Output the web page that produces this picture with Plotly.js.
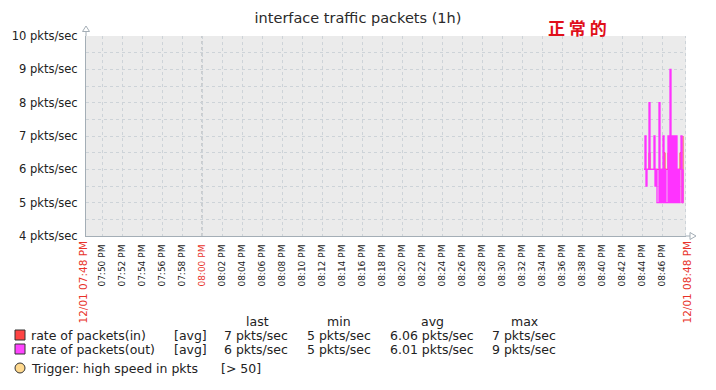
<!DOCTYPE html>
<html><head><meta charset="utf-8">
<script src="https://cdn.plot.ly/plotly-3.0.1.min.js"></script>
<style>body{margin:0;padding:0;background:#fff}</style>
</head><body><div id="chart" style="width:716px;height:390px"></div>
<script>
// ---- data ----
const titleText = "interface traffic packets (1h)";
const startTime = "19:48:24";
const endTime = "20:48:24";
const tickTimes = ["19:50","19:52","19:54","19:56","19:58","20:00","20:02","20:04","20:06","20:08","20:10","20:12","20:14","20:16","20:18","20:20","20:22","20:24","20:26","20:28","20:30","20:32","20:34","20:36","20:38","20:40","20:42","20:44","20:46"];
const tickLabels = ["07:50 PM","07:52 PM","07:54 PM","07:56 PM","07:58 PM","08:00 PM","08:02 PM","08:04 PM","08:06 PM","08:08 PM","08:10 PM","08:12 PM","08:14 PM","08:16 PM","08:18 PM","08:20 PM","08:22 PM","08:24 PM","08:26 PM","08:28 PM","08:30 PM","08:32 PM","08:34 PM","08:36 PM","08:38 PM","08:40 PM","08:42 PM","08:44 PM","08:46 PM"];
const startLabel = "12/01 07:48 PM";
const endLabel = "12/01 08:48 PM";
const yTicks = [4,5,6,7,8,9,10];
const yLabels = ["4 pkts/sec","5 pkts/sec","6 pkts/sec","7 pkts/sec","8 pkts/sec","9 pkts/sec","10 pkts/sec"];
const sampleTimes = ["20:44:12","20:44:18","20:44:24","20:44:30","20:44:36","20:44:42","20:44:48","20:44:54","20:45:00","20:45:06",
  "20:45:12","20:45:18","20:45:24","20:45:30","20:45:36","20:45:42","20:45:48","20:45:54","20:46:00","20:46:06",
  "20:46:12","20:46:18","20:46:24","20:46:30","20:46:36","20:46:42","20:46:48","20:46:54","20:47:00","20:47:06",
  "20:47:12","20:47:18","20:47:24","20:47:30","20:47:36","20:47:42","20:47:48","20:47:54","20:48:00","20:48:06"];
const packetsIn = [6,6,6,6,6,6.5,6,6,6,6, 6,6,6,6,6,6,6,6,6,6, 6.5,6,6,6,6.5,6,6,6,6,6, 6,6,6,6,6,6,6.5,6,5,7];
const packetsOut = [6,7,5.5,6,6,8,6,6,6,6, 7,5.5,6,5,5,8,5,6,5,7, 5,6,5,5,7,5,9,5,7,5, 7,5,7,5,6,5,6,7,5,6];
const legendNames = ["rate of packets(in)","rate of packets(out)"];
const legendFunc = ["[avg]","[avg]"];
const legendLast = ["7 pkts/sec","6 pkts/sec"];
const legendMin = ["5 pkts/sec","5 pkts/sec"];
const legendAvg = ["6.06 pkts/sec","6.01 pkts/sec"];
const legendMax = ["7 pkts/sec","9 pkts/sec"];
const triggerText = "Trigger: high speed in pkts";
const triggerCond = "[> 50]";
const stamp = "正 常 的";

// ---- helpers ----
const ORIGIN = 19*60 + 48; // 07:48 PM
function toMin(s){ const p = s.split(":").map(Number); return p[0]*60 + p[1] + (p[2]||0)/60 - ORIGIN; }
const L = 86, T = 36, W = 600, H = 200;
function px(x){ return (x - L)/W; }
function py(y){ return (T + H - y)/H; }

const RED = "#ff3c3c", MAG = "#ff33ff", AX = "#a4aeb6", GRID = "#cdd3d8";
const DASH = "3px,3px";
const FONT = "DejaVu Sans";
const xs = sampleTimes.map(toMin);

const traces = [
  {x: xs, y: packetsIn, type: "scatter", mode: "lines", line: {color: RED, width: 1, shape: "hv"}, hoverinfo: "skip"},
  {x: xs, y: packetsOut, type: "scatter", mode: "lines", line: {color: MAG, width: 1.3, shape: "hv"}, hoverinfo: "skip"}
];

const ticktext = tickLabels.map(t => t === "08:00 PM" ? '<span style="color:#e8322a">' + t + '</span>' : t);

const ann = [];
function txt(t, x, y, anchor, size, color, extra){
  ann.push(Object.assign({text: t, xref: "paper", yref: "paper", x: px(x), y: py(y), xanchor: anchor, yanchor: "middle",
    showarrow: false, font: {family: FONT, size: size, color: color || "#222"}}, extra || {}));
}
// edge time labels
ann.push({text: startLabel, xref: "x", yref: "paper", x: toMin(startTime), y: py(239), xshift: -4, xanchor: "center", yanchor: "top",
  textangle: -90, showarrow: false, font: {family: FONT, size: 10.5, color: "#e8322a"}});
ann.push({text: endLabel, xref: "x", yref: "paper", x: toMin(endTime), y: py(239), xshift: 0, xanchor: "center", yanchor: "top",
  textangle: -90, showarrow: false, font: {family: FONT, size: 10.5, color: "#e8322a"}});
// legend headers
txt("last", 257, 321, "center", 12.5);
txt("min", 339, 321, "center", 12.5);
txt("avg", 432, 321, "center", 12.5);
txt("max", 524, 321, "center", 12.5);
const rowY = [335, 349];
for (let i = 0; i < 2; i++){
  txt(legendNames[i], 29, rowY[i], "left", 12.5);
  txt(legendFunc[i], 209, rowY[i], "right", 12.5);
  txt(legendLast[i], 290, rowY[i], "right", 12.5);
  txt(legendMin[i], 373, rowY[i], "right", 12.5);
  txt(legendAvg[i], 476, rowY[i], "right", 12.5);
  txt(legendMax[i], 558, rowY[i], "right", 12.5);
}
txt(triggerText, 29, 368, "left", 12.5);
txt(triggerCond, 219, 368, "left", 12.5);
// stamp
ann.push({text: "<b>" + stamp + "</b>", xref: "paper", yref: "paper", x: px(577), y: py(28), xanchor: "center", yanchor: "middle",
  showarrow: false, font: {family: "Noto Sans CJK SC", size: 17, color: "#e0101a"}});

const shapes = [
  // 08:00 darker line
  {type: "line", xref: "x", yref: "paper", x0: toMin("20:00"), x1: toMin("20:00"), y0: 0, y1: 1, line: {color: "#a9aeb3", width: 1, dash: DASH}, layer: "below"},
  // right edge grid
  {type: "line", xref: "paper", yref: "paper", x0: px(685.5), x1: px(685.5), y0: 0, y1: 1, line: {color: GRID, width: 1, dash: DASH}, layer: "below"},
  // axis extensions
  {type: "line", xref: "paper", yref: "paper", x0: 0, x1: 0, y0: 1, y1: py(31.5), line: {color: AX, width: 1}},
  {type: "line", xref: "paper", yref: "paper", x0: 1, x1: px(690), y0: 0, y1: 0, line: {color: AX, width: 1}},
  // arrows
  {type: "path", xref: "paper", yref: "paper", path: `M ${px(82.5)} ${py(31.5)} L ${px(89.5)} ${py(31.5)} L ${px(86)} ${py(26)} Z`, fillcolor: "#fff", line: {color: AX, width: 1}},
  {type: "path", xref: "paper", yref: "paper", path: `M ${px(690)} ${py(232.5)} L ${px(690)} ${py(239.5)} L ${px(696)} ${py(236)} Z`, fillcolor: "#fff", line: {color: AX, width: 1}},
  // legend squares
  {type: "rect", xref: "paper", yref: "paper", x0: px(15), x1: px(25), y0: py(340), y1: py(330), fillcolor: "#ff4444", line: {color: "#333", width: 1}},
  {type: "rect", xref: "paper", yref: "paper", x0: px(15), x1: px(25), y0: py(354), y1: py(344), fillcolor: "#ff44ff", line: {color: "#333", width: 1}},
  // trigger circle
  {type: "circle", xref: "paper", yref: "paper", x0: px(15), x1: px(25), y0: py(373), y1: py(363), fillcolor: "#ffd98e", line: {color: "#333", width: 1}}
];

const layout = {
  width: 716, height: 390,
  margin: {l: L, r: 716 - L - W, t: T, b: 390 - T - H, pad: 0},
  paper_bgcolor: "#fff", plot_bgcolor: "#ebebeb",
  showlegend: false,
  title: {text: titleText, x: 0.5, xref: "container", xanchor: "center", y: 1 - 18/390, yref: "container", yanchor: "middle",
    font: {family: FONT, size: 14.5, color: "#2a2a2a"}},
  xaxis: {range: [toMin(startTime), toMin(endTime)], tickmode: "array", tickvals: tickTimes.map(toMin), ticktext: ticktext,
    tickangle: -90, tickfont: {family: FONT, size: 9, color: "#222"}, ticks: "", ticklabelstandoff: 4,
    showgrid: true, gridcolor: GRID, griddash: DASH, gridwidth: 1, zeroline: false,
    showline: true, linecolor: AX, linewidth: 1, fixedrange: true},
  yaxis: {range: [4, 10], tickmode: "array", tickvals: yTicks, ticktext: yLabels,
    tickfont: {family: FONT, size: 11.5, color: "#222"}, ticks: "", ticklabelstandoff: 5,
    showgrid: true, gridcolor: GRID, griddash: DASH, gridwidth: 1, zeroline: false,
    minor: {tickmode: "linear", tick0: 4, dtick: 0.5, showgrid: true, gridcolor: GRID, griddash: DASH, gridwidth: 1, ticks: ""},
    showline: true, linecolor: AX, linewidth: 1, fixedrange: true},
  annotations: ann,
  shapes: shapes
};
Plotly.newPlot("chart", traces, layout, {staticPlot: true, displayModeBar: false});
</script></body></html>
